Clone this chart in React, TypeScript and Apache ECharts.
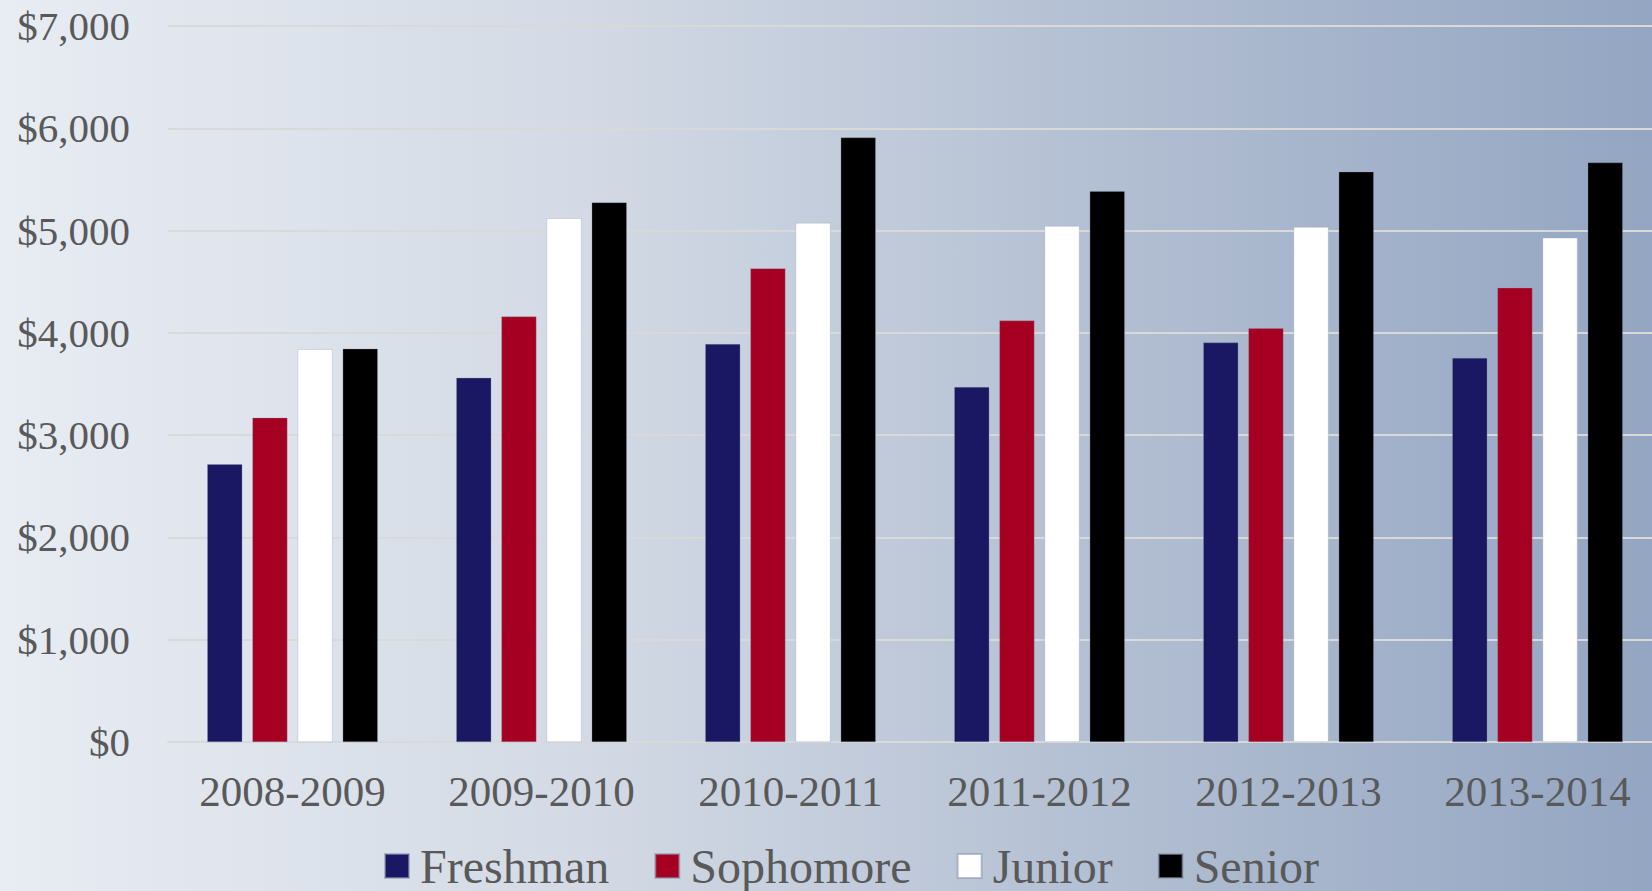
import React, { useEffect, useRef } from "react";
import * as echarts from "echarts";

const categories = ["2008-2009", "2009-2010", "2010-2011", "2011-2012", "2012-2013", "2013-2014"];
const freshman = [2715, 3560, 3890, 3470, 3905, 3755];
const sophomore = [3170, 4160, 4630, 4120, 4045, 4440];
const junior = [3840, 5120, 5075, 5045, 5035, 4930];
const senior = [3845, 5275, 5910, 5385, 5575, 5665];
const seriesNames = ["Freshman", "Sophomore", "Junior", "Senior"];
const seriesColors = ["#1a1862", "#a50021", "#ffffff", "#000000"];
const yTicks = { min: 0, max: 7000, interval: 1000 };

const FONT = '"Liberation Serif", "Times New Roman", serif';

export default function App() {
  const ref = useRef<HTMLDivElement>(null);
  useEffect(() => {
    if (!ref.current) return;
    const chart = echarts.init(ref.current, undefined, { renderer: "svg" });
    const data = [freshman, sophomore, junior, senior];
    chart.setOption({
      animation: false,
      backgroundColor: {
        type: "linear",
        x: 0,
        y: 0,
        x2: 1,
        y2: 0,
        colorStops: [
          { offset: 0, color: "#e8ecf3" },
          { offset: 0.35, color: "#d3dae5" },
          { offset: 0.65, color: "#b4c0d3" },
          { offset: 1, color: "#93a5c2" },
        ],
      },
      grid: { left: 168, right: 0, top: 26, bottom: 149, containLabel: false },
      legend: {
        left: 384,
        top: 842,
        padding: 0,
        itemWidth: 24,
        itemHeight: 24,
        itemGap: 45,
        icon: "rect",
        data: seriesNames,
        textStyle: { fontFamily: FONT, fontSize: 48, color: "#595959", lineHeight: 48, padding: [0, 0, 0, 6] },
      },
      xAxis: {
        type: "category",
        data: categories,
        axisLine: { show: true, lineStyle: { color: "#d9d9d9", width: 2 } },
        axisTick: { show: false },
        axisLabel: { fontFamily: FONT, fontSize: 43, color: "#595959", margin: 28 },
      },
      yAxis: {
        type: "value",
        min: yTicks.min,
        max: yTicks.max,
        interval: yTicks.interval,
        axisLine: { show: false },
        axisTick: { show: false },
        splitLine: { lineStyle: { color: "#d9d9d9", width: 2 } },
        axisLabel: {
          fontFamily: FONT,
          fontSize: 41,
          color: "#595959",
          margin: 38,
          formatter: (v: number) => "$" + v.toLocaleString("en-US"),
        },
      },
      series: seriesNames.map((name, i) => ({
        name,
        type: "bar",
        data: data[i],
        barWidth: 35,
        barGap: "29%",
        itemStyle: { color: seriesColors[i], borderColor: "rgba(140,150,175,0.6)", borderWidth: 0.5 },
      })),
    });
    return () => chart.dispose();
  }, []);
  return (
    <div style={{ position: "fixed", left: 0, top: 0, width: 1652, height: 891, overflow: "hidden" }}>
      <div ref={ref} style={{ width: 1662, height: 891 }} />
    </div>
  );
}
